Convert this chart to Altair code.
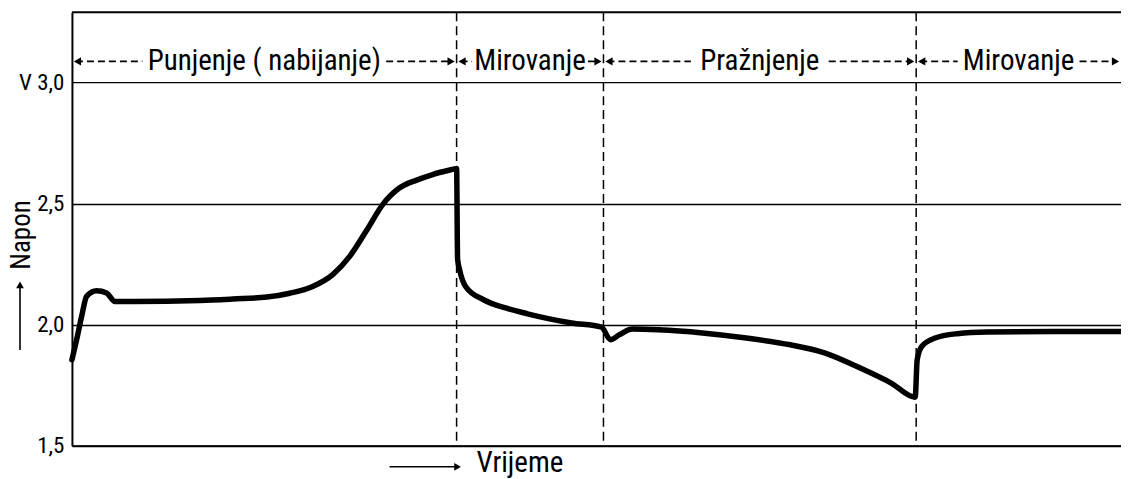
import altair as alt
import pandas as pd

# ---- data ----
TIME = [0.0, 0.47, 0.97, 1.47, 2.47, 3.47, 4.3, 6.1, 12.8, 16.1, 19.5, 21.8, 24.1, 26.1,
        27.8, 29.5, 31.1, 32.8, 34.5, 36.1, 38.3, 38.5, 38.6, 38.8, 39.4, 41.2, 43.4,
        45.6, 47.8, 50.0, 53.0, 53.9, 54.8, 56.1, 58.7, 63.1, 67.5, 71.9, 75.4, 78.9,
        82.0, 84.4, 84.6, 85.05, 86.4, 88.6, 91.6, 98.2, 105.0]
VOLT = [1.855, 1.938, 2.034, 2.117, 2.140, 2.131, 2.096, 2.096, 2.100, 2.106, 2.114, 2.130,
        2.158, 2.207, 2.282, 2.390, 2.496, 2.565, 2.597, 2.620, 2.643, 2.645, 2.270, 2.227,
        2.158, 2.103, 2.069, 2.045, 2.024, 2.007, 1.990, 1.938, 1.959, 1.982, 1.979, 1.966,
        1.945, 1.917, 1.883, 1.821, 1.759, 1.701, 1.855, 1.910, 1.945, 1.963, 1.970, 1.972,
        1.972]

PHASE_EDGES = [0.0, 38.5, 53.2, 84.5, 105.0]
PHASE_LABELS = ["Punjenje ( nabijanje)", "Mirovanje", "Pražnjenje", "Mirovanje"]
LABEL_HALF = [11.9, 5.5, 6.6, 5.8]
Y_TICKS = [1.5, 2.0, 2.5, 3.0]
Y_MIN, Y_MAX = 1.5, 3.29
X_MAX = 105.0
HEADER_Y = 3.087

FONT = "Roboto Condensed, Roboto, sans-serif"

curve = pd.DataFrame({"t": TIME, "v": VOLT})

segs, heads, labels = [], [], []
for i, lab in enumerate(PHASE_LABELS):
    l, r = PHASE_EDGES[i], PHASE_EDGES[i + 1]
    c = (l + r) / 2
    h = LABEL_HALF[i]
    segs.append({"x": l + 0.4, "x2": c - h - 0.3})
    segs.append({"x": c + h + 0.3, "x2": r - 0.4})
    heads.append({"x": l + 0.55, "shape": "triangle-left"})
    heads.append({"x": r - 0.55, "shape": "triangle-right"})
    labels.append({"x": c, "label": lab})
segs = pd.DataFrame(segs)
segs["y"] = HEADER_Y
heads = pd.DataFrame(heads)
heads["y"] = HEADER_Y
labels = pd.DataFrame(labels)
labels["y"] = HEADER_Y

xs = alt.Scale(domain=[0, X_MAX], nice=False, zero=False)
ys = alt.Scale(domain=[Y_MIN, Y_MAX], nice=False, zero=False)

line = alt.Chart(curve).mark_line(
    color="black", strokeWidth=5.5, interpolate="monotone", strokeCap="round", strokeJoin="round"
).encode(
    x=alt.X("t:Q", scale=xs, axis=alt.Axis(title=None, labels=False, ticks=False, grid=False,
                                            domainColor="black", domainWidth=2)),
    y=alt.Y("v:Q", scale=ys, axis=alt.Axis(
        title=None, values=Y_TICKS, grid=True, gridColor="black", gridWidth=1.4, gridOpacity=1,
        ticks=False, domainColor="black", domainWidth=2, labelFont=FONT, labelFontSize=23,
        labelColor="black", labelPadding=8,
        labelExpr="(datum.value == 3 ? 'V ' : '') + replace(format(datum.value, '.1f'), '.', ',')")),
)

top = alt.Chart(pd.DataFrame({"y": [Y_MAX]})).mark_rule(color="black", strokeWidth=2).encode(
    y=alt.Y("y:Q", scale=ys), x=alt.value(0), x2=alt.value(1050)
)

vlines = alt.Chart(pd.DataFrame({"t": PHASE_EDGES[1:-1]})).mark_rule(
    color="black", strokeWidth=1.5, strokeDash=[9, 5]
).encode(x=alt.X("t:Q", scale=xs))

dash = alt.Chart(segs).mark_rule(color="black", strokeWidth=1.8, strokeDash=[7, 4]).encode(
    x=alt.X("x:Q", scale=xs), x2="x2:Q", y=alt.Y("y:Q", scale=ys)
)

arrowheads = alt.Chart(heads).mark_point(filled=True, color="black", size=70, opacity=1).encode(
    x=alt.X("x:Q", scale=xs), y=alt.Y("y:Q", scale=ys),
    shape=alt.Shape("shape:N", scale=None, legend=None)
)

phase_text = alt.Chart(labels).mark_text(
    font=FONT, fontSize=29, color="black", align="center", baseline="middle"
).encode(x=alt.X("x:Q", scale=xs), y=alt.Y("y:Q", scale=ys), text="label:N")

# axis titles with arrows
ytitle = alt.Chart(pd.DataFrame({"txt": ["Napon"]})).mark_text(
    font=FONT, fontSize=27, color="black", angle=270, align="center", baseline="middle"
).encode(x=alt.value(-50), y=alt.value(223), text="txt:N")
yarrow = alt.Chart(pd.DataFrame({"a": [1]})).mark_rule(color="black", strokeWidth=1.6).encode(
    x=alt.value(-52), y=alt.value(338), y2=alt.value(274)
)
yhead = alt.Chart(pd.DataFrame({"a": [1]})).mark_point(
    filled=True, color="black", shape="triangle-up", size=60, opacity=1
).encode(x=alt.value(-52), y=alt.value(273))

xtitle = alt.Chart(pd.DataFrame({"txt": ["Vrijeme"]})).mark_text(
    font=FONT, fontSize=29, color="black", align="left", baseline="middle"
).encode(x=alt.value(405), y=alt.value(451), text="txt:N")
xarrow = alt.Chart(pd.DataFrame({"a": [1]})).mark_rule(color="black", strokeWidth=1.6).encode(
    x=alt.value(318), x2=alt.value(384), y=alt.value(455)
)
xhead = alt.Chart(pd.DataFrame({"a": [1]})).mark_point(
    filled=True, color="black", shape="triangle-right", size=60, opacity=1
).encode(x=alt.value(386), y=alt.value(455))

chart = alt.layer(
    top, vlines, dash, arrowheads, phase_text, line, ytitle, yarrow, yhead, xtitle, xarrow, xhead
).properties(
    width=1050, height=434,
    autosize=alt.AutoSizeParams(type="none"),
    padding={"left": 64, "top": 4, "right": 0, "bottom": 35},
).configure_view(stroke=None).configure(background="white")

chart.save("out.html", embed_options={"renderer": "svg", "actions": False})
